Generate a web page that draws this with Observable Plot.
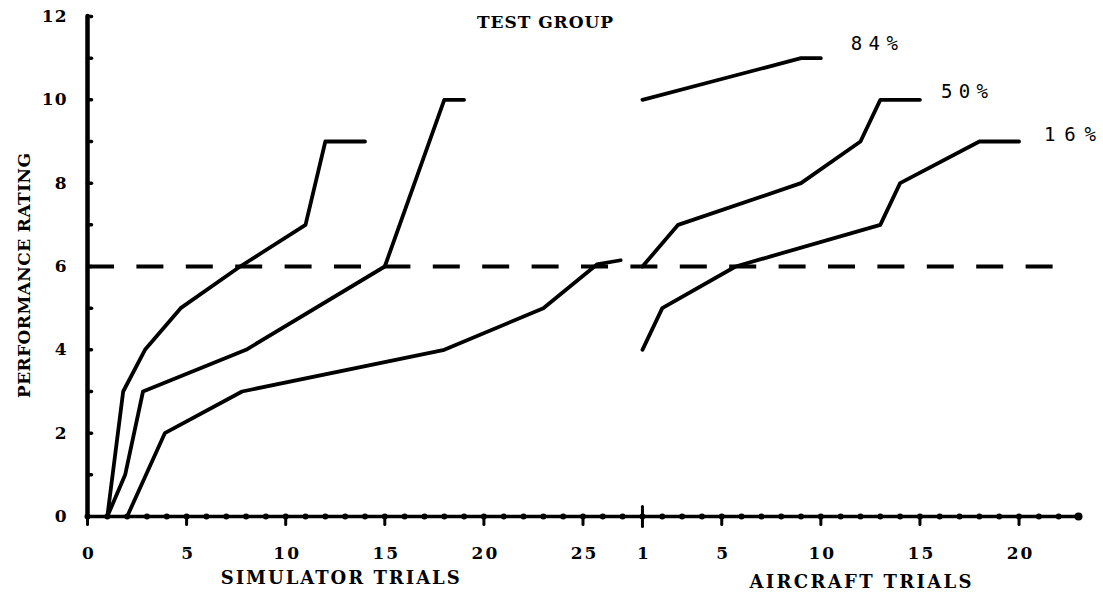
<!DOCTYPE html>
<html><head><meta charset="utf-8">
<script src="https://cdn.jsdelivr.net/npm/d3@7"></script>
<script src="https://cdn.jsdelivr.net/npm/@observablehq/plot@0.6"></script>
<style>
html,body{margin:0;padding:0;background:#fff;}
text[aria-label="xticklabels"]{letter-spacing:2px;}
text[aria-label="yticklabels"]{letter-spacing:1px;}
</style>
</head><body><div id="chart"></div>
<script>
// ---- data ----
const AIR_OFFSET = 27;               // aircraft trial 1 sits just after simulator trial 27
const percentLabels = ["84%", "50%", "16%"];

const simTrials84 = [1, 1.8, 2.9, 4.7, 7.7, 11, 12, 14];
const simRating84 = [0, 3, 4, 5, 6, 7, 9, 9];
const simTrials50 = [1, 1.9, 2.8, 8, 15, 18, 19];
const simRating50 = [0, 1, 3, 4, 6, 10, 10];
const simTrials16 = [2, 3.9, 7.8, 18, 23, 25.7, 26.9];
const simRating16 = [0, 2, 3, 4, 5, 6.05, 6.15];

const airTrials84 = [1, 5, 9, 10];
const airRating84 = [10, 10.5, 11, 11];
const airTrials50 = [1, 2.8, 9, 12, 13, 15];
const airRating50 = [6, 7, 8, 9, 10, 10];
const airTrials16 = [1, 2, 5.7, 13, 14, 18, 20];
const airRating16 = [4, 5, 6, 7, 8, 9, 9];

const criterion = 6;
const criterionEndAircraft = 22;
const simTickLabels = [0, 5, 10, 15, 20, 25];
const airTickLabels = [1, 5, 10, 15, 20];
const airAxisEnd = 23;
const yTickLabels = [0, 2, 4, 6, 8, 10, 12];
const yMax = 12;
const titleText = "TEST GROUP";
const yTitle = "PERFORMANCE RATING";
const simTitle = "SIMULATOR TRIALS";
const airTitle = "AIRCRAFT TRIALS";

// ---- build tables ----
const series = [
  {key: "sim84", t: simTrials84, r: simRating84, off: 0},
  {key: "sim50", t: simTrials50, r: simRating50, off: 0},
  {key: "sim16", t: simTrials16, r: simRating16, off: 0},
  {key: "air84", t: airTrials84, r: airRating84, off: AIR_OFFSET},
  {key: "air50", t: airTrials50, r: airRating50, off: AIR_OFFSET},
  {key: "air16", t: airTrials16, r: airRating16, off: AIR_OFFSET}
];
const rows = series.flatMap(s => s.t.map((t, i) => ({key: s.key, x: t + s.off, y: s.r[i]})));
const ends = ["air84", "air50", "air16"].map((k, i) => {
  const s = series.find(d => d.key === k);
  const n = s.t.length - 1;
  return {x: s.t[n] + s.off, y: s.r[n], label: percentLabels[i]};
});
const xMax = AIR_OFFSET + airAxisEnd;
const xTicks = [
  ...simTickLabels.map(v => ({pos: v, label: String(v)})),
  ...airTickLabels.map(v => ({pos: v + AIR_OFFSET, label: String(v)}))
];
const majorDown = xTicks.filter(d => d.pos !== 1 + AIR_OFFSET).map(d => d.pos);
const junction = [1 + AIR_OFFSET];
const minorDots = d3.range(0, xMax + 1);
const yBumps = d3.range(1, yMax + 1);

// custom tick symbols
const tickDown = {draw(ctx, size) { const r = Math.sqrt(size / Math.PI); ctx.moveTo(0, 0); ctx.lineTo(0, r); }};
const tickBoth = {draw(ctx, size) { const r = Math.sqrt(size / Math.PI); ctx.moveTo(0, -r); ctx.lineTo(0, r); }};
const tickRight = {draw(ctx, size) { const r = Math.sqrt(size / Math.PI); ctx.moveTo(0, 0); ctx.lineTo(r, 0); }};

const FONT = "DejaVu Serif";
const ink = "#000";
const tag = name => () => name;

const chart = Plot.plot({
  width: 1103,
  height: 605,
  marginLeft: 87,
  marginRight: 25,
  marginTop: 16,
  marginBottom: 89,
  x: {domain: [0, xMax], axis: null},
  y: {domain: [0, yMax], axis: null},
  style: {fontFamily: FONT, background: "#fff", color: ink},
  marks: [
    // axes lines
    Plot.ruleY([0], {x1: 0, x2: xMax, stroke: ink, strokeWidth: 3.5, strokeLinecap: "round"}),
    Plot.ruleX([0], {y1: 0, y2: yMax, stroke: ink, strokeWidth: 4.5, strokeLinecap: "round"}),
    // x axis dots and ticks
    Plot.dot(minorDots, {x: d => d, y: () => 0, r: 3, fill: ink, stroke: "none"}),
    Plot.dot([xMax], {x: d => d, y: () => 0, r: 4, fill: ink, stroke: "none"}),
    Plot.dot(majorDown, {x: d => d, y: () => 0, symbol: tickDown, r: 8, stroke: ink, strokeWidth: 3, fill: "none", strokeLinecap: "round"}),
    Plot.dot(junction, {x: d => d, y: () => 0, symbol: tickBoth, r: 10, stroke: ink, strokeWidth: 3, fill: "none", strokeLinecap: "round"}),
    // y axis bumps
    Plot.dot(yBumps, {x: () => 0, y: d => d, symbol: tickRight, r: 4, stroke: ink, strokeWidth: 3.5, fill: "none", strokeLinecap: "round"}),
    // criterion dashed line
    Plot.ruleY([criterion], {x1: 0, x2: AIR_OFFSET + criterionEndAircraft, stroke: ink, strokeWidth: 4, strokeDasharray: "27,22.4", strokeLinecap: "butt"}),
    // curves
    Plot.line(rows, {x: "x", y: "y", z: "key", stroke: ink, strokeWidth: 3.8, strokeLinejoin: "round", strokeLinecap: "round", curve: "linear"}),
    // percent labels
    Plot.text([ends[0]], {x: "x", y: "y", text: "label", dx: 30, dy: -14, textAnchor: "start", fontSize: 19, fontFamily: "DejaVu Sans Mono", fill: ink, ariaLabel: tag("pct84")}),
    Plot.text([ends[1]], {x: "x", y: "y", text: "label", dx: 21, dy: -7.5, textAnchor: "start", fontSize: 19, fontFamily: "DejaVu Sans Mono", fill: ink, ariaLabel: tag("pct50")}),
    Plot.text([ends[2]], {x: "x", y: "y", text: "label", dx: 25, dy: -7, textAnchor: "start", fontSize: 19, fontFamily: "DejaVu Sans Mono", fill: ink, ariaLabel: tag("pct16")}),
    // tick labels
    Plot.text(xTicks, {x: "pos", text: "label", frameAnchor: "bottom", dy: 37, lineAnchor: "middle", dx: 1.5, fontSize: 17, fontWeight: "bold", fill: ink, ariaLabel: tag("xticklabels")}),
    Plot.text(yTickLabels, {y: d => d, text: d => String(d), frameAnchor: "left", dx: -20, textAnchor: "end", lineAnchor: "middle", fontSize: 17, fontWeight: "bold", fill: ink, ariaLabel: tag("yticklabels")}),
    // titles
    Plot.text([titleText], {text: d => d, frameAnchor: "top", dx: -38, dy: 6, lineAnchor: "middle", fontSize: 17, fontWeight: "bold", fill: ink, ariaLabel: tag("title")}),
    Plot.text([yTitle], {text: d => d, frameAnchor: "left", dx: -63, dy: 9, rotate: -90, textAnchor: "middle", lineAnchor: "middle", fontSize: 17, fontWeight: "bold", fill: ink, ariaLabel: tag("ylabel")}),
    Plot.text([{label: simTitle, at: (0 + 25.5) / 2}], {x: "at", text: "label", frameAnchor: "bottom", dy: 62, lineAnchor: "middle", fontSize: 18, fontWeight: "bold", fill: ink, ariaLabel: tag("simlabel")}),
    Plot.text([{label: airTitle, at: (1 + AIR_OFFSET + xMax) / 2}], {x: "at", text: "label", frameAnchor: "bottom", dy: 66, lineAnchor: "middle", fontSize: 18, fontWeight: "bold", fill: ink, ariaLabel: tag("airlabel")})
  ]
});
// stretch typed labels to the widths seen in the figure
const svg = d3.select(chart);
const fitWidth = (aria, w) => svg.selectAll(`text[aria-label="${aria}"]`).attr("textLength", w).attr("lengthAdjust", "spacing");
fitWidth("title", 136);
fitWidth("ylabel", 245);
fitWidth("simlabel", 239);
fitWidth("airlabel", 222);
fitWidth("pct84", 47);
fitWidth("pct50", 47);
fitWidth("pct16", 52);
document.getElementById("chart").appendChild(chart);
</script>
</body></html>
